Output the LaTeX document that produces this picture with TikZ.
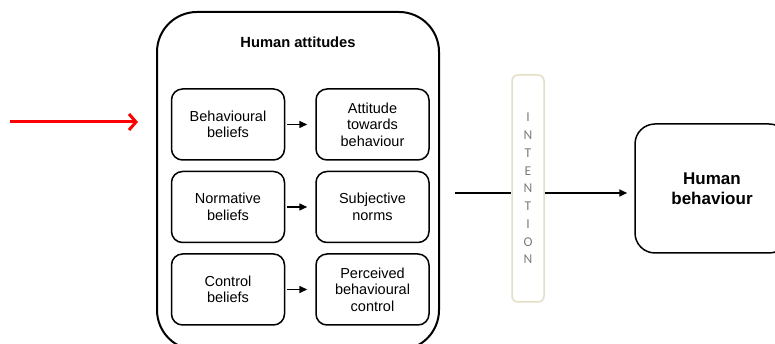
\documentclass[tikz,border=0pt]{standalone}
\usepackage{fontspec}
\setmainfont{Liberation Sans}
\newfontfamily\intfont{Carlito}
\usetikzlibrary{positioning,arrows.meta}
\definecolor{intborder}{RGB}{228,222,198}
\definecolor{intgray}{RGB}{125,125,125}

\begin{document}
\begin{tikzpicture}[%
			x=1pt, y=1pt,
			node distance=10pt and 30pt,
			every node/.style={align=center, inner sep=0pt, font=\fontsize{14.5}{16.5}\selectfont},
			belief/.style={draw, line width=1.5pt, rounded corners=11pt, minimum width=113pt, minimum height=71pt},
			link/.style={-{Triangle[length=8pt,width=7pt]}, line width=1.5pt}
			]
			\useasboundingbox (0,0) rectangle (775,344);
			% human attitudes
			\node[draw, line width=2pt, rounded corners=40pt, minimum width=282pt, minimum height=338pt] (1) at (298,163) {};
			\node[font=\bfseries\fontsize{14.7}{17}\selectfont] (title) at (298,302) {Human attitudes};
			\node[belief] (2) at (228,219.5) {Behavioural\\ beliefs};
			\node[belief, below=of 2] (3) {Normative\\ beliefs};
			\node[belief, below=of 3] (4) {Control\\ beliefs};
			\node[belief, right=of 2] (2sub) {Attitude\\ towards\\ behaviour};
			\node[belief, right=of 3] (3sub) {Subjective\\ norms};
			\node[belief, right=of 4] (4sub) {Perceived\\ behavioural\\ control};
			\draw[link, shorten <=2pt, shorten >=8pt] (2) -- (2sub);
			\draw[link, shorten <=2pt, shorten >=8pt] (3) -- (3sub);
			\draw[link, shorten <=2pt, shorten >=8pt] (4) -- (4sub);
			% input
			\coordinate (src) at (10,222);
			\coordinate (in) at (138,222);
			\draw[red, line width=3pt, -{Straight Barb[length=7pt,width=16pt]}] (src) -- (in);
			% intention
			\node[draw=intborder, line width=1.5pt, rounded corners=6pt, minimum width=32pt, minimum height=227pt,
				text=intgray, font=\intfont\fontsize{13.5}{17.75}\selectfont] (int) at (528,155.5) {I\\N\\T\\E\\N\\T\\I\\O\\N};
			\coordinate (from) at (455,151);
			\draw[line width=1.2pt] (from) -- (from -| int.west);
			% behaviour
			\node[draw, line width=1.5pt, rounded corners=20pt, minimum width=154pt, minimum height=129pt,
				font=\bfseries\fontsize{17}{20}\selectfont] (5) at (712,155.5) {Human\\ behaviour};
			\draw[link, line width=2pt, shorten >=7pt] (from -| int.east) -- (from -| 5.west);
		\end{tikzpicture}
\end{document}
